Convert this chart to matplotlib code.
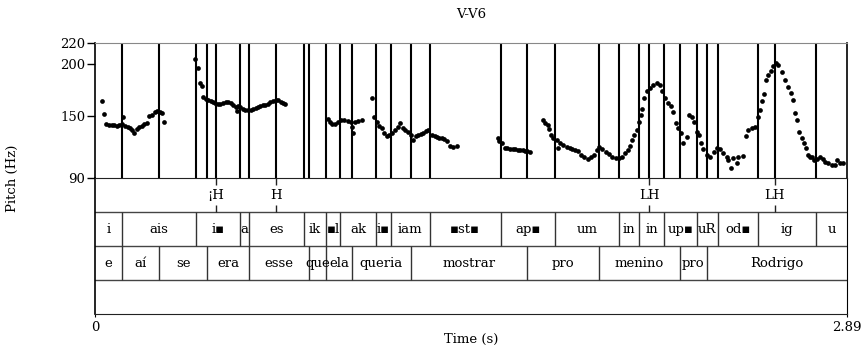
import matplotlib.pyplot as plt

plt.rcParams['font.family'] = ['DejaVu Serif', 'DejaVu Sans']

# --- pitch track (s, Hz) ---
t_pitch = [
    0.028, 0.036, 0.044, 0.054, 0.064, 0.074, 0.085, 0.094, 0.104, 0.109, 0.115, 0.125, 0.135, 0.144,
    0.151, 0.161, 0.171, 0.181, 0.190, 0.200, 0.209, 0.219, 0.229, 0.238, 0.248, 0.257, 0.267,
    0.384, 0.395, 0.404, 0.411, 0.415, 0.425, 0.434, 0.444, 0.453, 0.463, 0.473, 0.482, 0.492, 0.502,
    0.511, 0.521, 0.530, 0.540, 0.545, 0.550, 0.559, 0.569, 0.578, 0.588, 0.598, 0.607, 0.617, 0.626,
    0.636, 0.646, 0.655, 0.665, 0.674, 0.684, 0.694, 0.703, 0.713, 0.723, 0.730,
    0.894, 0.903, 0.912, 0.922, 0.933, 0.945, 0.958, 0.971, 0.984, 0.986, 0.990, 0.999, 1.012, 1.027,
    1.063, 1.073, 1.083, 1.091, 1.102, 1.112, 1.121, 1.130, 1.140, 1.153, 1.166, 1.172, 1.185, 1.193,
    1.204, 1.214, 1.223, 1.233, 1.243, 1.253, 1.262, 1.272, 1.281, 1.294, 1.305, 1.313, 1.323, 1.332,
    1.342, 1.351, 1.364, 1.377, 1.390,
    1.548, 1.553, 1.563, 1.576, 1.585, 1.595, 1.605, 1.614, 1.624, 1.633, 1.643, 1.653, 1.662, 1.672,
    1.723, 1.729, 1.739, 1.745, 1.753, 1.761, 1.774, 1.778, 1.787, 1.800, 1.813, 1.826, 1.835, 1.845,
    1.857, 1.868, 1.880, 1.894, 1.906, 1.919, 1.928, 1.937, 1.950, 1.963, 1.975, 1.988, 2.001, 2.014,
    2.027, 2.037, 2.047, 2.057, 2.065, 2.073, 2.082, 2.091, 2.098, 2.103, 2.111, 2.120, 2.133, 2.146,
    2.159, 2.171, 2.180, 2.191, 2.201, 2.214, 2.223, 2.232, 2.241, 2.252, 2.261, 2.274, 2.283, 2.293,
    2.303, 2.312, 2.321, 2.329, 2.338, 2.351, 2.364, 2.377, 2.390, 2.402, 2.415, 2.428, 2.434, 2.443,
    2.453, 2.466, 2.472, 2.489, 2.502, 2.511, 2.524, 2.536, 2.548, 2.556, 2.562, 2.571, 2.579, 2.588,
    2.597, 2.607, 2.617, 2.626, 2.639, 2.652, 2.665, 2.674, 2.681, 2.690, 2.699, 2.707, 2.716, 2.725,
    2.731, 2.740, 2.748, 2.757, 2.763, 2.775, 2.785, 2.797, 2.805, 2.818, 2.831, 2.844, 2.853, 2.863,
    2.873,
]
f_pitch = [
    163.8, 151.6, 142.0, 141.6, 141.3, 141.0, 140.4, 141.3, 141.8, 148.7, 140.4, 139.4, 138.1, 136.5,
    133.9, 137.5, 138.9, 140.4, 141.8, 143.5, 150.0, 151.2, 153.8, 154.8, 154.1, 152.9, 144.5,
    204.6, 195.5, 181.1, 178.6, 168.0, 166.6, 165.7, 164.7, 163.5, 162.5, 161.8, 161.8, 162.5, 163.2,
    163.5, 162.5, 160.6, 158.9, 155.1, 159.6, 158.6, 156.7, 155.8, 155.5, 155.8, 156.8, 157.4, 158.2,
    159.0, 160.0, 160.8, 161.8, 163.0, 164.5, 165.4, 164.9, 163.5, 162.0, 161.2,
    146.8, 144.5, 142.3, 142.3, 144.5, 146.1, 146.1, 145.5, 144.5, 139.0, 133.3, 144.5, 145.5, 146.1,
    167.3, 149.3, 144.5, 140.4, 138.1, 133.3, 130.7, 131.7, 133.9, 136.5, 139.1, 143.0, 138.1, 136.0,
    134.9, 132.0, 127.0, 130.6, 131.7, 132.5, 133.9, 135.0, 136.5, 131.7, 130.2, 129.5, 129.0, 128.5,
    127.5, 125.9, 121.1, 120.4, 121.1,
    129.0, 125.5, 123.7, 118.9, 118.7, 118.5, 118.2, 117.9, 117.6, 117.3, 116.8, 116.3, 116.0, 115.6,
    146.1, 143.5, 141.3, 137.2, 131.7, 128.5, 126.9, 118.9, 124.3, 122.0, 120.4, 118.9, 118.0, 117.3,
    116.3, 112.4, 110.2, 108.9, 110.2, 112.4, 117.3, 119.8, 117.9, 115.6, 113.4, 110.8, 109.3, 109.3,
    110.8, 114.1, 117.3, 121.1, 126.9, 131.7, 136.5, 144.5, 150.9, 156.4, 167.0, 173.4, 176.7, 179.8,
    181.5, 179.8, 173.4, 167.0, 162.2, 159.0, 154.1, 143.0, 138.1, 133.3, 124.3, 130.1, 150.9, 149.3,
    144.5, 134.9, 131.7, 123.7, 118.5, 112.4, 110.8, 115.5, 118.9, 117.9, 114.1, 110.8, 107.6, 99.6,
    109.3, 104.4, 110.8, 111.5, 130.7, 136.5, 138.1, 139.7, 149.0, 155.8, 163.8, 171.2, 184.7, 189.5,
    192.7, 197.5, 200.7, 199.1, 191.7, 184.7, 178.2, 171.8, 165.4, 152.6, 146.1, 134.9, 128.5, 123.7,
    118.9, 112.4, 110.8, 110.8, 107.6, 109.0, 110.8, 108.5, 106.0, 104.4, 102.8, 102.8, 107.6, 104.4,
    104.4,
]

# --- TextGrid tiers ---
t_end = 2.89
tone_times = [0.465, 0.694, 2.130, 2.612]
tone_labels = ['¡H', 'H', 'LH', 'LH']

syl_bounds = [0.105, 0.387, 0.557, 0.591, 0.803, 0.888, 0.943, 1.080, 1.137, 1.287,
              1.559, 1.768, 2.014, 2.091, 2.187, 2.313, 2.394, 2.547, 2.771]
syl_labels = ['i', 'ais', 'i▪', 'a', 'es', 'ik', '▪l', 'ak', 'i▪', 'iam',
              '▪st▪', 'ap▪', 'um', 'in', 'in', 'up▪', 'uR', 'od▪', 'ig', 'u']

word_bounds = [0.105, 0.245, 0.432, 0.591, 0.823, 0.888, 0.987, 1.213, 1.662, 1.937, 2.248, 2.351]
word_labels = ['e', 'aí', 'se', 'era', 'esse', 'que', 'ela', 'queria', 'mostrar',
               'pro', 'menino', 'pro', 'Rodrigo']

W, H = 865, 345
fs = 9.5
fig = plt.figure(figsize=(W / 100, H / 100), dpi=100)
ax = fig.add_axes([95 / W, (H - 178.3) / H, 752 / W, 135.3 / H])
axt = fig.add_axes([95 / W, (H - 314) / H, 752 / W, 135.7 / H])

# pitch panel
for b in sorted(set(syl_bounds + word_bounds + tone_times)):
    ax.axvline(b, color='black', lw=1.5)
ax.plot(t_pitch, f_pitch, 'o', color='black', ms=3.4, mew=0)
ax.set_xlim(0, t_end)
ax.set_ylim(90, 220)
ax.set_xticks([])
ax.set_yticks([90, 150, 200, 220])
ax.tick_params(axis='y', direction='out', length=6, width=1, pad=1, labelsize=fs)
ax.spines['top'].set_color('#888888')
ax.spines['bottom'].set_visible(False)
ax.spines['left'].set_linewidth(1.2)
ax.spines['right'].set_linewidth(1.2)

# tiers
axt.set_xlim(0, t_end)
axt.set_ylim(0, 4)
for y in [1, 2, 3]:
    axt.axhline(y, color='#444444', lw=1)
for sp in axt.spines.values():
    sp.set_color('#222222')
axt.spines['left'].set_linewidth(1.2)
axt.spines['left'].set_color('black')
axt.spines['right'].set_color('black')

for tt, lab in zip(tone_times, tone_labels):
    axt.vlines(tt, 3.8, 4, color='#222222', lw=1)
    axt.vlines(tt, 3, 3.2, color='#222222', lw=1)
    axt.text(tt, 3.5, lab, ha='center', va='center', fontsize=fs)

edges = [0] + syl_bounds + [t_end]
axt.vlines(syl_bounds, 2, 3, color='#333333', lw=1)
for i, lab in enumerate(syl_labels):
    axt.text((edges[i] + edges[i + 1]) / 2, 2.5, lab, ha='center', va='center', fontsize=fs)

edges = [0] + word_bounds + [t_end]
axt.vlines(word_bounds, 1, 2, color='#333333', lw=1)
for i, lab in enumerate(word_labels):
    axt.text((edges[i] + edges[i + 1]) / 2, 1.5, lab, ha='center', va='center', fontsize=fs)

axt.set_yticks([])
axt.set_xticks([0, t_end])
axt.set_xticklabels(['0', '2.89'])
axt.tick_params(axis='x', direction='out', length=2, pad=3, labelsize=fs)

fig.text(471 / W, 1 - 14 / H, 'V-V6', ha='center', va='center', fontsize=fs)
fig.text(471 / W, 1 - 339 / H, 'Time (s)', ha='center', va='center', fontsize=fs)
fig.text(12 / W, 1 - 178 / H, 'Pitch (Hz)', ha='center', va='center', rotation=90, fontsize=fs)

fig.savefig('out.png', dpi=100)
